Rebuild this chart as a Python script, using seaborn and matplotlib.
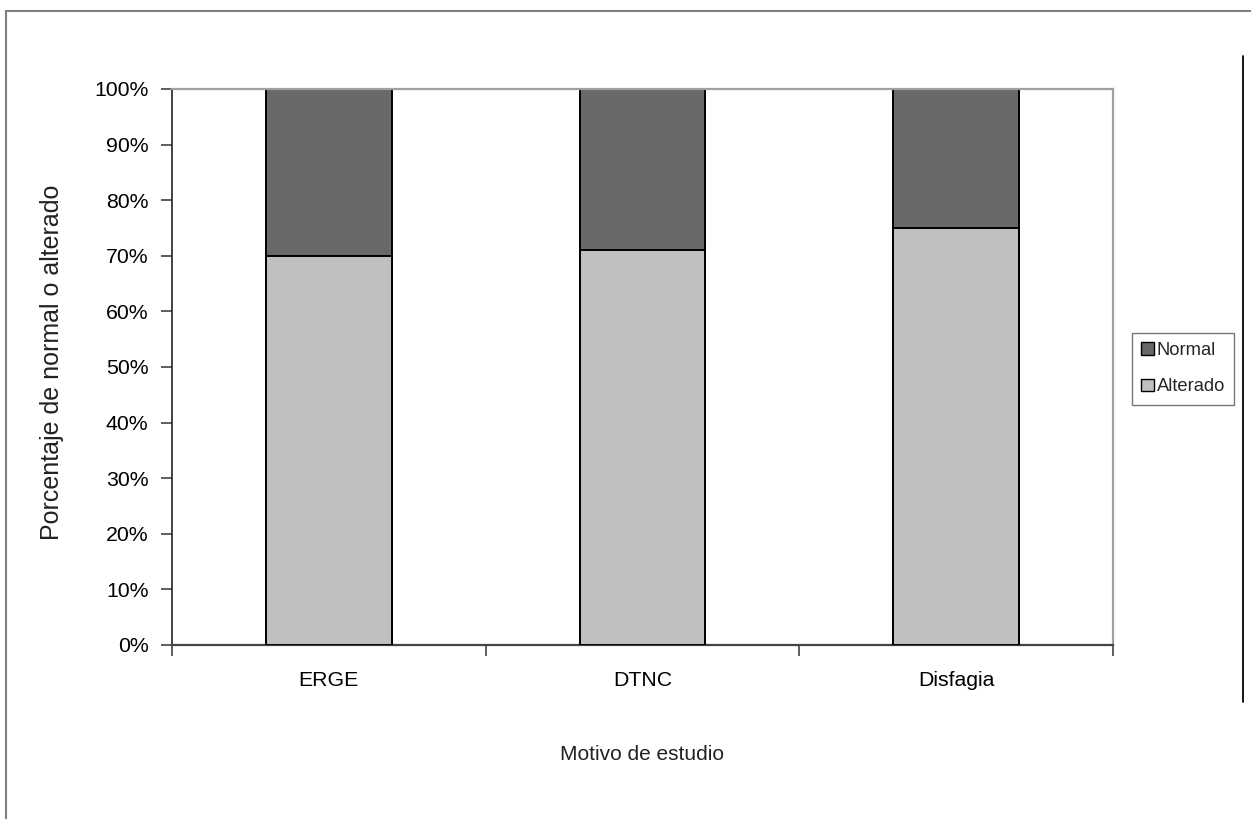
import matplotlib
matplotlib.use("Agg")
import matplotlib.pyplot as plt
from matplotlib.patches import Rectangle, Patch
from matplotlib.lines import Line2D
from matplotlib.ticker import FixedLocator, PercentFormatter
import seaborn as sns
import pandas as pd

# Study reasons and the share of abnormal results in each group (percent)
categorias = ["ERGE", "DTNC", "Disfagia"]
alterado = [70.0, 71.1, 75.0]
normal = [30.0, 28.9, 25.0]
series = ["Normal", "Alterado"]
y_ticks = [0, 10, 20, 30, 40, 50, 60, 70, 80, 90, 100]

COLOR_NORMAL = "#696969"
COLOR_ALTERADO = "#c0c0c0"

sns.set_theme(style="white")
plt.rcParams["font.family"] = ["Liberation Sans", "DejaVu Sans"]

df = pd.DataFrame({"motivo": categorias, "alterado": alterado, "normal": normal})
df["total"] = df["alterado"] + df["normal"]

W, H = 1251, 819
fig = plt.figure(figsize=(W / 100, H / 100), dpi=100)
fig.patch.set_facecolor("white")

# plot area in pixel terms
left, right, top, bottom = 172, 1113, 89, 645
ax = fig.add_axes([left / W, 1 - bottom / H, (right - left) / W, (bottom - top) / H])

# stacked 100% bars: full height in dark grey, abnormal share on top of it from zero
sns.barplot(data=df, x="motivo", y="total", color=COLOR_NORMAL, saturation=1,
            width=0.4, edgecolor="black", linewidth=1.4, ax=ax, zorder=2)
sns.barplot(data=df, x="motivo", y="alterado", color=COLOR_ALTERADO, saturation=1,
            width=0.4, edgecolor="black", linewidth=1.4, ax=ax, zorder=3)

ax.set_xlim(-0.5, 2.5)
ax.set_ylim(0, 100)

# y axis
ax.yaxis.set_major_locator(FixedLocator(y_ticks))
ax.yaxis.set_major_formatter(PercentFormatter(decimals=0))
ax.tick_params(axis="y", which="major", direction="out", length=8, width=1.1,
               color="#333333", left=True, pad=9, labelsize=15.3, labelcolor="black")

# x axis: tick marks between categories, labels centred under the bars
ax.set_xticks([-0.5, 0.5, 1.5, 2.5])
ax.set_xticklabels([])
ax.set_xticks([0, 1, 2], minor=True)
ax.set_xticklabels(categorias, minor=True)
ax.tick_params(axis="x", which="major", direction="out", length=8, width=1.1,
               color="#333333", bottom=True)
ax.tick_params(axis="x", which="minor", length=0, pad=19, labelsize=15.3,
               labelcolor="black")

ax.set_xlabel("Motivo de estudio", fontsize=15, color="#222222")
ax.set_ylabel("Porcentaje de normal o alterado", fontsize=18, color="#222222")
ax.xaxis.set_label_coords(0.5, (bottom - 755) / (bottom - top))
ax.yaxis.set_label_coords((52 - left) / (right - left), (bottom - 362) / (bottom - top))
ax.xaxis.label.set_va("center")
ax.yaxis.label.set_va("center")

for side in ["top", "right"]:
    ax.spines[side].set_color("#a0a0a0")
    ax.spines[side].set_linewidth(1.6)
ax.spines["left"].set_color("#222222")
ax.spines["left"].set_linewidth(1.2)
ax.spines["bottom"].set_color("#444444")
ax.spines["bottom"].set_linewidth(1.6)
ax.grid(False)

# legend
handles = [Patch(facecolor=COLOR_NORMAL, edgecolor="black", linewidth=1.0, label=series[0]),
           Patch(facecolor=COLOR_ALTERADO, edgecolor="black", linewidth=1.0, label=series[1])]
leg = ax.legend(handles=handles, loc="upper left",
                bbox_to_anchor=(1132 / W, 1 - 333 / H), bbox_transform=fig.transFigure,
                fontsize=13.2, frameon=True, fancybox=False, handlelength=0.7,
                handleheight=0.7, handletextpad=0.15, borderpad=0.5,
                labelspacing=1.05, borderaxespad=0)
leg.get_frame().set_edgecolor("#555555")
leg.get_frame().set_linewidth(1.0)

# chart frame around the whole chart area
fig.add_artist(Rectangle((6 / W, -0.2), 1.3, 1.2 - 11 / H, transform=fig.transFigure,
                         fill=False, edgecolor="#808080", linewidth=1.5))
fig.add_artist(Line2D([1243 / W, 1243 / W], [1 - 56 / H, 1 - 702 / H],
                      transform=fig.transFigure, color="black", linewidth=1.3))

fig.savefig("out.png", dpi=100, facecolor="white")
